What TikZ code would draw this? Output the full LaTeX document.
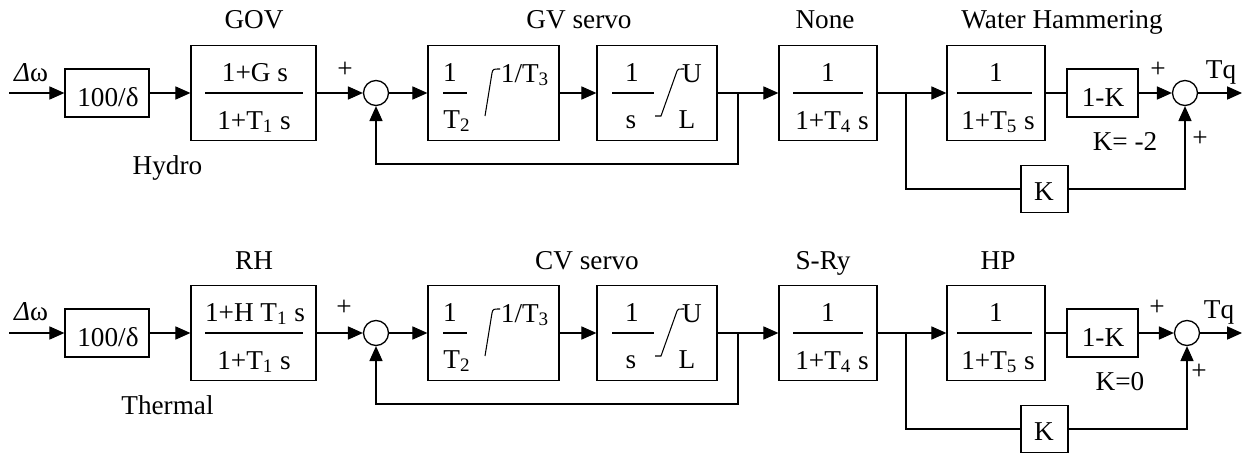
\documentclass[tikz,border=0pt]{standalone}
\usepackage{fontspec}
\setmainfont{Liberation Serif}
\usetikzlibrary{arrows.meta}

\tikzset{
  blk/.style={draw, line width=0.75pt, inner sep=0pt},
  bigblk/.style={blk, minimum height=1.9cm},
  smallblk/.style={blk, minimum height=0.96cm},
  sumnode/.style={draw, circle, line width=0.75pt, minimum size=0.5cm, inner sep=0pt},
  lbl/.style={inner sep=0pt, anchor=base, font=\fontsize{15.5}{18}\selectfont},
  plus/.style={inner sep=0pt, font=\fontsize{15.5}{18}\selectfont},
  wire/.style={line width=0.6pt},
  sig/.style={wire, -{Triangle[length=8.5pt,width=7.5pt]}},
}

\begin{document}
\begin{tikzpicture}[x=0.02cm, y=-0.02cm]
    \useasboundingbox (0,0) rectangle (1244,453);

    % Hydro: gain and governor
    \coordinate (hin) at (9,93);
    \node[lbl] (hdw) at (31,81) {{\itshape Δ}ω};
    \node[smallblk, minimum width=1.68cm] (hgain) at (107,93) {};
    \node[lbl] (hgaintxt) at (108,106) {100/δ};
    \node[bigblk, minimum width=2.5cm] (hgov) at (253.5,93) {};
    \node[lbl] (hgovnum) at (255,81) {1+G s};
    \node[lbl] (hgovden) at (254,129) {1+T\textsubscript{1} s};
    \draw[wire] (205,93) -- (303,93);
    \node[lbl] (hgovtitle) at (254,29) {GOV};
    \node[lbl] (hname) at (167.5,174) {Hydro};

    % Hydro: GV servo loop
    \node[sumnode] (hsum) at (376,93) {};
    \node[plus] (hsumplus) at (345,70) {+};
    \node[bigblk, minimum width=2.62cm] (hsva) at (493.5,93) {};
    \node[lbl] (hsvanum) at (450,81) {1};
    \draw[wire] (443,93) -- (467,93);
    \node[lbl] (hsvaden) at (457,128) {T\textsubscript{2}};
    \draw[wire] (485,116) -- (492,73) .. controls (493,69) .. (500,69);
    \node[lbl] (hsvarate) at (525,82) {1/T\textsubscript{3}};
    \node[bigblk, minimum width=2.4cm] (hsvb) at (657,93) {};
    \node[lbl] (hsvbnum) at (632,81) {1};
    \draw[wire] (612,93) -- (654,93);
    \node[lbl] (hsvbden) at (631,128) {s};
    \draw[wire] (655,116) -- (661,116) -- (677,71) .. controls (678,69) .. (684,69);
    \node[lbl] (hsvbup) at (692,82) {U};
    \node[lbl] (hsvblo) at (687,128) {L};
    \node[lbl] (hsvtitle) at (579,29) {GV servo};
    \coordinate (hbra) at (738,93);

    % Hydro: lag and water hammering
    \node[bigblk, minimum width=1.96cm] (hlag) at (828,93) {};
    \node[lbl] (hlagnum) at (828,81) {1};
    \draw[wire] (793,93) -- (863,93);
    \node[lbl] (hlagden) at (832,129) {1+T\textsubscript{4} s};
    \node[lbl] (hlagtitle) at (825,29) {None};
    \coordinate (hbrb) at (906,93);
    \node[bigblk, minimum width=1.96cm] (hwh) at (996,93) {};
    \node[lbl] (hwhnum) at (996,81) {1};
    \draw[wire] (957,93) -- (1032,93);
    \node[lbl] (hwhden) at (998,129) {1+T\textsubscript{5} s};
    \node[lbl] (hwhtitle) at (1062,29) {Water Hammering};
    \node[smallblk, minimum width=1.42cm] (hok) at (1102.5,93) {};
    \node[lbl] (hoktxt) at (1103,106) {1-K};
    \node[blk, minimum width=0.94cm, minimum height=0.94cm] (hk) at (1044.5,189) {};
    \node[lbl] (hktxt) at (1044,200) {K};
    \node[lbl] (hkval) at (1125,150) {K= -2};
    \node[sumnode] (hsumb) at (1185,93) {};
    \node[plus] (hsumbplusa) at (1158,70) {+};
    \node[plus] (hsumbplusb) at (1200,139) {+};
    \node[lbl] (htq) at (1221,78) {Tq};
    \coordinate (hout) at (1242,93);

    % Hydro: connectors
    \draw[sig] (hin) -- (hgain);
    \draw[sig] (hgain) -- (hgov);
    \draw[sig] (hgov) -- (hsum);
    \draw[sig] (hsum) -- (hsva);
    \draw[sig] (hsva) -- (hsvb);
    \draw[sig] (hsvb) -- (hlag);
    \draw[sig] (hbra) -- ++(0,71) -| (hsum);
    \draw[sig] (hlag) -- (hwh);
    \draw[wire] (hwh) -- (hok);
    \draw[sig] (hok) -- (hsumb);
    \draw[wire] (hbrb) |- (hk);
    \draw[sig] (hk) -| (hsumb);
    \draw[sig] (hsumb) -- (hout);

    % Thermal: gain and reheater
    \coordinate (tin) at (9,333);
    \node[lbl] (tdw) at (31,320) {{\itshape Δ}ω};
    \node[smallblk, minimum width=1.68cm] (tgain) at (107,333) {};
    \node[lbl] (tgaintxt) at (108,346) {100/δ};
    \node[bigblk, minimum width=2.5cm] (trh) at (253.5,333) {};
    \node[lbl] (trhnum) at (255,321) {1+H T\textsubscript{1} s};
    \node[lbl] (trhden) at (254,369) {1+T\textsubscript{1} s};
    \draw[wire] (205,333) -- (303,333);
    \node[lbl] (trhtitle) at (254,269) {RH};
    \node[lbl] (tname) at (167.5,414) {Thermal};

    % Thermal: CV servo loop
    \node[sumnode] (tsum) at (376,333) {};
    \node[plus] (tsumplus) at (344,308) {+};
    \node[bigblk, minimum width=2.62cm] (tsva) at (493.5,333) {};
    \node[lbl] (tsvanum) at (450,321) {1};
    \draw[wire] (443,333) -- (467,333);
    \node[lbl] (tsvaden) at (457,368) {T\textsubscript{2}};
    \draw[wire] (485,356) -- (492,313) .. controls (493,309) .. (500,309);
    \node[lbl] (tsvarate) at (525,322) {1/T\textsubscript{3}};
    \node[bigblk, minimum width=2.4cm] (tsvb) at (657,333) {};
    \node[lbl] (tsvbnum) at (632,321) {1};
    \draw[wire] (612,333) -- (654,333);
    \node[lbl] (tsvbden) at (631,368) {s};
    \draw[wire] (655,356) -- (661,356) -- (677,311) .. controls (678,309) .. (684,309);
    \node[lbl] (tsvbup) at (692,322) {U};
    \node[lbl] (tsvblo) at (687,368) {L};
    \node[lbl] (tsvtitle) at (587,269) {CV servo};
    \coordinate (tbra) at (738,333);

    % Thermal: steam chest and HP turbine
    \node[bigblk, minimum width=1.96cm] (tlag) at (828,333) {};
    \node[lbl] (tlagnum) at (828,321) {1};
    \draw[wire] (793,333) -- (863,333);
    \node[lbl] (tlagden) at (832,369) {1+T\textsubscript{4} s};
    \node[lbl] (tlagtitle) at (823,269) {S-Ry};
    \coordinate (tbrb) at (906,333);
    \node[bigblk, minimum width=1.96cm] (thp) at (996,333) {};
    \node[lbl] (thpnum) at (996,321) {1};
    \draw[wire] (957,333) -- (1032,333);
    \node[lbl] (thpden) at (998,369) {1+T\textsubscript{5} s};
    \node[lbl] (thptitle) at (998,269) {HP};
    \node[smallblk, minimum width=1.42cm] (tok) at (1102.5,333) {};
    \node[lbl] (toktxt) at (1103,346) {1-K};
    \node[blk, minimum width=0.94cm, minimum height=0.94cm] (tk) at (1044.5,429) {};
    \node[lbl] (tktxt) at (1044,440) {K};
    \node[lbl] (tkval) at (1120,390) {K=0};
    \node[sumnode] (tsumb) at (1187,333) {};
    \node[plus] (tsumbplusa) at (1157,308) {+};
    \node[plus] (tsumbplusb) at (1199,372) {+};
    \node[lbl] (ttq) at (1219,318) {Tq};
    \coordinate (tout) at (1242,333);

    % Thermal: connectors
    \draw[sig] (tin) -- (tgain);
    \draw[sig] (tgain) -- (trh);
    \draw[sig] (trh) -- (tsum);
    \draw[sig] (tsum) -- (tsva);
    \draw[sig] (tsva) -- (tsvb);
    \draw[sig] (tsvb) -- (tlag);
    \draw[sig] (tbra) -- ++(0,71) -| (tsum);
    \draw[sig] (tlag) -- (thp);
    \draw[wire] (thp) -- (tok);
    \draw[sig] (tok) -- (tsumb);
    \draw[wire] (tbrb) |- (tk);
    \draw[sig] (tk) -| (tsumb);
    \draw[sig] (tsumb) -- (tout);

\end{tikzpicture}
\end{document}
